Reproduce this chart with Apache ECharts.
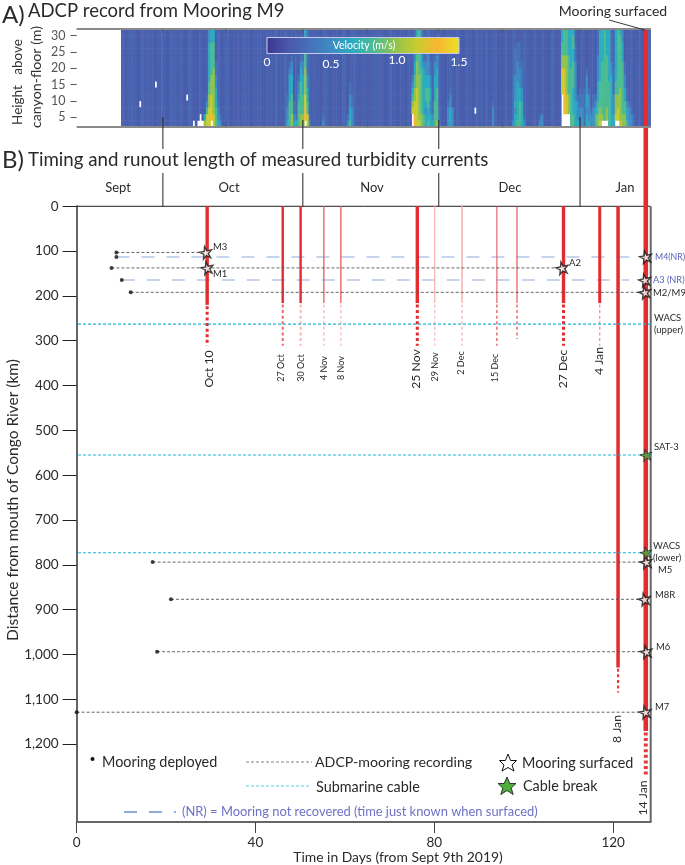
<!DOCTYPE html>
<html><head><meta charset="utf-8">
<style>html,body{margin:0;padding:0;background:#fff}#c{width:685px;height:865px}</style>
<script src="https://cdn.jsdelivr.net/npm/echarts@6/dist/echarts.min.js"></script>
</head><body><div id="c"></div>
<script>
// ---- Panel B data (days since Sept 9 2019, km from river mouth)
const xTicks = [0, 40, 80, 120];
const yTicks = [0,100,200,300,400,500,600,700,800,900,1000,1100,1200];
const eventNames   = ['Oct 10','27 Oct','30 Oct','4 Nov','8 Nov','25 Nov','29 Nov','2 Dec','15 Dec','','27 Dec','4 Jan','8 Jan','14 Jan'];
const eventDays    = [29.2,46.1,50.1,55.3,59.1,76.2,80.1,86.2,94.0,98.5,108.9,117.0,121.1,127.3];
const eventSolidKm = [220,216,216,216,216,216,216,216,216,216,216,216,1029,1171];
const eventDotKm   = [311,311,311,311,311,311,311,311,311,296,311,311,1085,1270];
const mooringNames = ['M3','M4(NR)','M1','A3 (NR)','M2/M9','M5','M8R','M6','M7'];
const deployDays   = [8.9,8.9,7.8,10.1,12.1,17.0,21.1,18.0,0.0];
const mooringKm    = [103,113,137.5,164.5,192,794,877,994,1129];
const surfaceDays  = [28.9,127.3,108.6,127.1,127.1,127.4,127.0,127.4,127.2];
const secondStarDay = 29.2;             // M1 surfaced; the dashed line continues to A2
const cableNames   = ['WACS (upper)','SAT-3','WACS (lower)'];
const cableKm      = [263,555,773];
const cableBreakKm = [555,773];
const cableBreakDay = 127.4;
const monthNames   = ['Sept','Oct','Nov','Dec','Jan'];
const monthDividerDays = [19.3,50.6,81.0,112.6];
const panelTickDays = [19.3,33.4,50.6,65.0,81.0,95.3,112.6];

// ---- Panel A data: half-day columns, 2 m rows, digit = velocity in sixths of m/s
const heightTicks = [5,10,15,20,25,30];
const halfDayCols = Array.from({length:257},(_,i)=>i);
const heightRows  = ['2','4','6','8','10','12','14','16','18','20','22','24','26','28','30'];
const velocityTicks = ['0','0.5','1.0','1.5'];
const backgroundFirstCol = 20;
const backgroundStreaks = [
 '2112312012','1321102132','0122311201','3211021123','1203112310','2110321102',
 '1231012213','0213112031','2102311120','1320112103','2011321012','1102231101',
 '3120112021','1211032112','0231101321','2110213012','1302112201','0121131021',
 '2211031120','1032112013','2113012101','1201321120','3102112031','1120213101'
].join('');
const bandStartCols = [57,94,98,110,121,150,166,186,195,207,217,232,241];
const bandColumns = [
 ['641111111111111','775321111111111','777665544444433','.87776665555544','776666666555544','555444332211111','433211111111111','321111111111111'],
 ['433221111111111','555544443211111','665554443321111','432211111111111'],
 ['421111111111111','555543321111111','665555544321111','665554443322211','.88776666555444','775544332222222','321111111111111'],
 ['321111111111111'],
 ['321111111111111','544332211111111','333221111111111'],
 ['..7654321111111','887766554433222','777777666655554','766666665555555','665555555444333','554444444322211','443455443322211','544555443333222','443344332211111','432211111111111','555544443321111','655555444332111','322111111111111'],
 ['333211111111111','444332111111111','333111111111111'],
 ['333211111111111'],
 ['322222221111111','443433332222111','544444433322211','555544333222211','444433222211111','321111111111111'],
 ['321111111111111','331111111111111'],
 ['.....7778665544','..8888777665555','..7776666665555','..6665555554444','555555555444444','554444555544554','444433333322211','433321111111111','333222111111111','333221111111111','222222111111111','443443332111111','433332111111111','332111111111111','333221111111111'],
 ['554321111111111','665544433332222','766555544444444','.65555555544444','.55555555555555','.66555555554444','555555544444444','444444443322222','443332222111111'],
 ['.76665544444444','.77665555555555','766666555555554','665555555544433','665544332211111','544322111111111','333211111111111','332111111111111','221111111111111']
];
const whiteCells = [[28,3],[35,6],[49,4],[52,0],[54,0],[55,0],[55,1],[56,0],[178,2]];

// ---- Build heat cells
const overrides = {};
bandStartCols.forEach((start,b)=>bandColumns[b].forEach((s,k)=>{overrides[start+k]=s;}));
const whiteSet = new Set(whiteCells.map(c=>c[0]+'_'+c[1]));
const heat = [];
for (let c=backgroundFirstCol;c<halfDayCols.length;c++){
  for (let r=0;r<heightRows.length;r++){
    if (whiteSet.has(c+'_'+r)) continue;
    const s = overrides[c];
    if (s){
      if (s[r]==='.') continue;
      if (s[r]!=='1'){ heat.push([c,r,(+s[r])/6]); continue; }
    }
    heat.push([c,r,0.19+0.025*(+backgroundStreaks[c-backgroundFirstCol])]);
  }
}

// ---- Layout helpers
const G = {left:76.6,right:650.7,top:206.3,bottom:822,kmMax:1374,dayMax:128.4};
const kmAt = y => (y-G.top)/((G.bottom-G.top)/G.kmMax);
const FONT = 'Lato';
const star = 'path://M50 0 L61 35 L98 35 L68 57 L79 91 L50 70 L21 91 L32 57 L2 35 L39 35 Z';

function seg(data,style,extra){
  return Object.assign({type:'line',xAxisIndex:1,yAxisIndex:2,data,symbol:'none',clip:false,silent:true,
    animation:false,connectNulls:false,lineStyle:style,z:3},extra||{});
}
function pairs(list){ const out=[]; list.forEach(p=>{out.push([p[0],p[1]],[p[2],p[3]],['-','-']);}); return out; }

const series = [{
  type:'heatmap',xAxisIndex:0,yAxisIndex:0,data:heat,animation:false,silent:true,progressive:0,itemStyle:{borderWidth:0},z:1
}];

// event bars and their dotted runout
const solidW  = [3.4,2.4,2.4,1.4,1.4,3.4,1.3,1.6,1,1,3.4,3,3.5,4.6];
const solidC  = ['#e32c2f','#e32c2f','#e32c2f','#ec6467','#ec6467','#e32c2f','#f7b4b4','#f7b4b4','#e3474a','#d9383b','#e32c2f','#e32c2f','#e32c2f','#e32c2f'];
const dotW    = [3,2,2,1.4,1.4,3,1.3,1.5,1.2,1.2,3,1.2,2.2,4];
const dotC    = ['#e32c2f','#ec6467','#f6b4b4','#f8bcbc','#f8bcbc','#e32c2f','#f8bcbc','#f8bcbc','#e3474a','#e3474a','#e32c2f','#f08a8a','#e8393c','#e8393c'];
eventDays.forEach((d,i)=>{
  const topKm = i===eventDays.length-1 ? kmAt(29) : 0;
  series.push(seg([[d,topKm],[d,eventSolidKm[i]]],{color:solidC[i],width:solidW[i]},{z:4}));
  series.push(seg([[d,eventSolidKm[i]+3],[d,eventDotKm[i]]],{color:dotC[i],width:dotW[i],type:[3,2.6]},{z:4}));
});

// mooring lines
mooringNames.forEach((n,i)=>{
  const nr = n.indexOf('NR')>=0;
  const end = surfaceDays[i];
  if (nr) series.push(seg([[deployDays[i],mooringKm[i]],[end-3.5,mooringKm[i]]],{color:'#b4c8e6',width:1.6,type:[13,12]},{z:3}));
  else series.push(seg([[deployDays[i],mooringKm[i]],[end,mooringKm[i]]],{color:'#555',width:0.9,type:[3,2]},{z:5}));
});

// cables (they run past both axes)
cableKm.forEach(k=>series.push(seg([[(28-G.left)/4.472,k],[(672-G.left)/4.472,k]],{color:'#1bb6dd',width:1.1,type:[3,2]},{z:5})));

// frame, month dividers, ticks on panel A
const aTop=kmAt(29), aBot=kmAt(127);
series.push(seg(pairs([[0,0,G.dayMax,0]]),{color:'#222',width:1},{z:2}));
series.push(seg(pairs([[0,aTop,G.dayMax,aTop],[0,aBot,G.dayMax,aBot]]),{color:'#8a8a8a',width:2},{z:6}));
series.push(seg(pairs([[G.dayMax,0,G.dayMax,G.kmMax]]),{color:'#666',width:2},{z:2}));
const dividers=[];
monthDividerDays.forEach((d,i)=>{
  if (i===3){ dividers.push([d,kmAt(117),d,0]); }
  else { dividers.push([d,kmAt(i===0?117:120),d,kmAt(149)],[d,kmAt(173),d,0]); }
});
series.push(seg(pairs(dividers),{color:'#222',width:1},{z:6}));
const aTicks=[];
panelTickDays.forEach(d=>{aTicks.push([d,aTop,d,kmAt(33)],[d,aBot,d,kmAt(123.5)]);});
series.push(seg(pairs(aTicks),{color:'#555',width:0.8},{z:6}));

// deployed dots
series.push({type:'scatter',xAxisIndex:1,yAxisIndex:2,data:deployDays.map((d,i)=>[d,mooringKm[i]]),clip:false,silent:true,animation:false,
  symbol:'circle',symbolSize:4,itemStyle:{color:'#111'},z:7});
// surfaced stars
const stars = surfaceDays.map((d,i)=>[d,mooringKm[i]]).concat([[secondStarDay,mooringKm[2]]]);
series.push({type:'scatter',xAxisIndex:1,yAxisIndex:2,data:stars,clip:false,silent:true,animation:false,
  symbol:star,symbolSize:12,symbolRotate:12,itemStyle:{color:'#fff',borderColor:'#111',borderWidth:1.4},z:8});
series.push({type:'scatter',xAxisIndex:1,yAxisIndex:2,data:cableBreakKm.map(k=>[cableBreakDay,k]),clip:false,silent:true,animation:false,
  symbol:star,symbolSize:12,symbolRotate:12,itemStyle:{color:'#4fae3c',borderColor:'#222',borderWidth:0.9},z:9});

// ---- Text and legend
function T(text,x,y,size,opt){
  opt=opt||{};
  return {type:'text',x,y,rotation:opt.rot||0,z:100,silent:true,style:{text,fontFamily:FONT,fontSize:size,
    fill:opt.fill||'#2a2a2a',textAlign:opt.align||'left',textVerticalAlign:'middle',opacity:opt.op==null?1:opt.op}};
}
const UP=Math.PI/2;
const blue='#5a62b8', leg='#6e71c4';
const graphic=[
  T('A)',2,15,24), T('ADCP record from Mooring M9',28,11,18.5),
  T('B)',2,160,24), T('Timing and runout length of measured turbidity currents',28,160,18.7),
  T('Mooring surfaced',613,11,14,{align:'center'}),
  {type:'line',z:100,silent:true,shape:{x1:609,y1:20,x2:645,y2:30},style:{stroke:'#222',lineWidth:0.9}},
  T('Height   above',18,82,13.5,{rot:UP,align:'center',fill:'#333'}),
  T('canyon-floor (m)',36,77,14.2,{rot:UP,align:'center',fill:'#333'}),
  T('Distance from mouth of Congo River (km)',13,500,15.5,{rot:UP,align:'center'}),
  T('Time in Days (from Sept 9th 2019)',398,858,13.9,{align:'center'}),
  // months
  T(monthNames[0],118,188,13,{align:'center'}),T(monthNames[1],229,188,13,{align:'center'}),
  T(monthNames[2],372,188,13,{align:'center'}),T(monthNames[3],510,188,13,{align:'center'}),T(monthNames[4],625,188,13,{align:'center'}),
  // colour bar
  {type:'rect',z:99,silent:true,shape:{x:267,y:37.5,width:192,height:16},style:{fill:'none',stroke:'#c8c8ea',lineWidth:1}},
  T('Velocity (m/s)',364,46,10.5,{align:'center',fill:'#fff'}),
  T(velocityTicks[0],267,62,12,{align:'center',fill:'#fff'}),T(velocityTicks[1],331,64,12,{align:'center',fill:'#fff'}),
  T(velocityTicks[2],397,60,12,{align:'center',fill:'#fff'}),T(velocityTicks[3],459,62,12,{align:'center',fill:'#fff'}),
  // event dates
  T(eventNames[0],209,369,12.2,{rot:UP,align:'center'}),
  T(eventNames[1],281.5,368,9,{rot:UP,align:'center'}),T(eventNames[2],301.5,368,9,{rot:UP,align:'center'}),
  T(eventNames[3],324.5,368,9,{rot:UP,align:'center'}),T(eventNames[4],341,368,9,{rot:UP,align:'center'}),
  T(eventNames[5],416.5,369,12.2,{rot:UP,align:'center'}),T(eventNames[6],435.5,367,9,{rot:UP,align:'center'}),
  T(eventNames[7],461.5,363,9,{rot:UP,align:'center'}),T(eventNames[8],495,368,9,{rot:UP,align:'center'}),
  T(eventNames[10],563,369,12.2,{rot:UP,align:'center'}),T(eventNames[11],599,361,12.2,{rot:UP,align:'center'}),
  T(eventNames[12],617,729,12.2,{rot:UP,align:'center'}),T(eventNames[13],643,798,12.2,{rot:UP,align:'center'}),
  // mooring names
  T('M3',213,247,9.5),T('M1',213,274,9.5),T('A2',569,263,9.5),
  T('M4(NR)',655,257,8.8,{fill:blue}),T('A3 (NR)',653,280,9.2,{fill:blue}),T('M2/M9',653,293,9.5),
  T('WACS',654,318,9.5),T('(upper)',654,330,9.5),T('SAT-3',654,447,9.5),
  T('WACS',653,545.5,9.5),T('(lower)',653,558,9.5),T('M5',658,570,9.5),T('M8R',655,595,9.5),T('M6',656,647,9.5),T('M7',655,707,9.5),
  // legend
  {type:'circle',z:100,silent:true,shape:{cx:92.5,cy:759,r:2},style:{fill:'#111'}},
  T('Mooring deployed',102,762,14.4),
  {type:'line',z:100,silent:true,shape:{x1:246,y1:762,x2:312,y2:762},style:{stroke:'#777',lineWidth:0.9,lineDash:[3,2]}},
  T('ADCP-mooring recording',315,762,14.2),
  {type:'polygon',z:100,silent:true,shape:{points:[[508,754],[510.6,760.5],[516.5,760.5],[512,765],[514,771],[508,767.5],[502,771],[504,765],[499.5,760.5],[505.4,760.5]]},style:{fill:'#fff',stroke:'#111',lineWidth:1}},
  T('Mooring surfaced',522,763,14.4),
  {type:'line',z:100,silent:true,shape:{x1:246,y1:786,x2:309,y2:786},style:{stroke:'#5fcbe6',lineWidth:1.2,lineDash:[3,2]}},
  T('Submarine cable',316,787,14.4),
  {type:'polygon',z:100,silent:true,shape:{points:[[507,777],[509.8,783.5],[516,783.5],[511.2,788],[513.2,794.5],[507,790.5],[500.8,794.5],[502.8,788],[498,783.5],[504.2,783.5]]},style:{fill:'#4fae3c',stroke:'#222',lineWidth:0.9}},
  T('Cable break',523,786,14.4),
  {type:'line',z:100,silent:true,shape:{x1:124,y1:812,x2:176,y2:812},style:{stroke:'#6d8ec9',lineWidth:1.5,lineDash:[13,12]}},
  T('(NR) = Mooring not recovered (time just known when surfaced)',182,812,12.9,{fill:leg})
];

const chart = echarts.init(document.getElementById('c'),null,{renderer:'canvas'});
chart.setOption({
  animation:false,
  backgroundColor:'#fff',
  textStyle:{fontFamily:FONT},
  grid:[
    {left:G.left,top:29,width:G.right-G.left,height:98},
    {left:G.left,top:G.top,width:G.right-G.left,height:G.bottom-G.top}
  ],
  xAxis:[
    {type:'category',gridIndex:0,data:halfDayCols,axisLine:{show:false},axisTick:{show:false},axisLabel:{show:false},splitLine:{show:false}},
    {type:'value',gridIndex:1,min:0,max:G.dayMax,position:'bottom',
      axisLine:{show:true,onZero:false,lineStyle:{color:'#666',width:2}},
      axisTick:{show:true,length:11,customValues:xTicks,lineStyle:{color:'#444',width:1}},
      axisLabel:{show:true,customValues:xTicks,fontSize:13.5,color:'#2a2a2a',margin:14,fontFamily:FONT},splitLine:{show:false}}
  ],
  yAxis:[
    {type:'category',gridIndex:0,data:heightRows,show:false},
    {type:'value',gridIndex:0,min:2,max:32,position:'left',
      axisLine:{show:false},
      axisTick:{show:true,length:6,customValues:heightTicks,lineStyle:{color:'#555',width:1}},
      axisLabel:{show:true,customValues:heightTicks,fontSize:12.5,color:'#555',margin:11,fontFamily:FONT},splitLine:{show:false}},
    {type:'value',gridIndex:1,inverse:true,min:0,max:G.kmMax,position:'left',
      axisLine:{show:true,onZero:false,lineStyle:{color:'#666',width:2}},
      axisTick:{show:true,length:14,customValues:yTicks,lineStyle:{color:'#222',width:1}},
      axisLabel:{show:true,customValues:yTicks,fontSize:13.5,color:'#2a2a2a',margin:18,fontFamily:FONT,
        formatter:v=>v>=1000?Math.floor(v/1000)+','+String(v%1000).padStart(3,'0'):String(v)},splitLine:{show:false}}
  ],
  visualMap:{type:'continuous',seriesIndex:0,dimension:2,min:0,max:1.5,orient:'horizontal',left:267,top:37.5,padding:0,
    itemWidth:16,itemHeight:192,text:null,showLabel:false,calculable:false,realtime:false,hoverLink:false,
    textStyle:{color:'transparent',fontSize:1},
    inRange:{color:['#3a3792','#4a58aa','#4571b9','#3d8cc4','#2aabc0','#4dbb92','#8fc34e','#c8cc30','#f8b632','#e9e226']}},
  series,
  graphic
});
</script>
</body></html>
